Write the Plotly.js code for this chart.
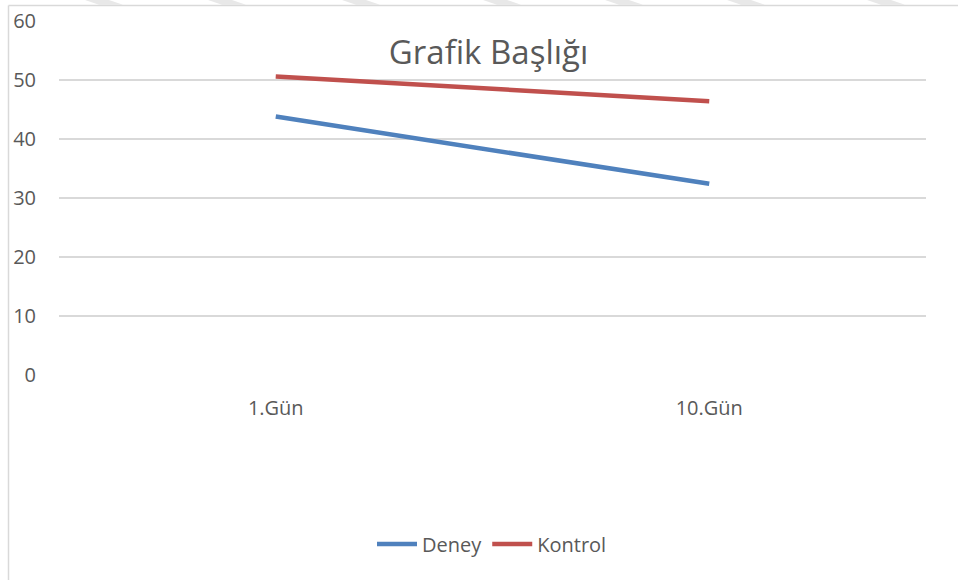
<!DOCTYPE html>
<html>
<head>
<meta charset="utf-8">
<script src="https://cdn.plot.ly/plotly-3.0.1.min.js"></script>
<style>html,body{margin:0;padding:0;background:#fff;}#chart{width:958px;height:580px;}</style>
</head>
<body>
<div id="chart"></div>
<script>
const categories = ["1.Gün", "10.Gün"];
const deney = [43.8, 32.4];
const kontrol = [50.6, 46.4];
const seriesNames = ["Deney", "Kontrol"];
const yTicks = [0, 10, 20, 30, 40, 50, 60];

const W = 958, H = 580;
const M = {l: 59, r: 32, t: 21, b: 205};
const pw = W - M.l - M.r, ph = H - M.t - M.b;
const px = x => (x - M.l) / pw;
const py = y => (H - M.b - y) / ph;

const FONT = "'Open Sans', Lato, sans-serif";
const TXT = "#595959";

const traces = [
  {x: categories, y: deney, name: seriesNames[0], type: "scatter", mode: "lines",
   line: {color: "#4F81BD", width: 4.5}},
  {x: categories, y: kontrol, name: seriesNames[1], type: "scatter", mode: "lines",
   line: {color: "#C0504D", width: 4.5}}
];

// decorative frame (chart border seen at left and top)
const shapes = [
  {type: "line", xref: "paper", yref: "paper", x0: px(8.5), x1: px(8.5), y0: py(5.5), y1: py(580), line: {color: "#D9D9D9", width: 1.5}},
  {type: "line", xref: "paper", yref: "paper", x0: px(8.5), x1: px(958), y0: py(5.5), y1: py(5.5), line: {color: "#D9D9D9", width: 1.5}}
];
// faint diagonal watermark stripes above the frame
[85, 208, 342, 483, 605, 727, 867].forEach(s => {
  shapes.push({type: "path", xref: "paper", yref: "paper", layer: "below",
    path: `M${px(s)},${py(0)} L${px(s + 24)},${py(0)} L${px(s + 38)},${py(4.8)} L${px(s + 14)},${py(4.8)} Z`,
    fillcolor: "#E8E8E8", line: {width: 0}});
});

const layout = {
  width: W, height: H,
  margin: M,
  paper_bgcolor: "#fff", plot_bgcolor: "#fff",
  font: {family: FONT, color: TXT, size: 20},
  title: {text: "Grafik Başlığı", font: {family: FONT, size: 33, color: TXT},
          x: 0.51, xref: "container", xanchor: "center", y: 1 - 52 / H, yref: "container", yanchor: "middle"},
  xaxis: {type: "category", range: [-0.5, 1.5], showgrid: false, showline: false, zeroline: false,
          ticks: "", ticklabelstandoff: 19, tickfont: {size: 20, color: TXT}, fixedrange: true},
  yaxis: {range: [0, 60], tickvals: yTicks, showgrid: true, gridcolor: "#D9D9D9", gridwidth: 1.5,
          zeroline: false, showline: false, ticks: "", ticklabelstandoff: 22,
          tickfont: {size: 20, color: TXT}, fixedrange: true},
  showlegend: true,
  legend: {orientation: "h", x: px(492), xanchor: "center", y: py(544), yanchor: "middle",
           font: {size: 20, color: TXT}, itemwidth: 40, traceorder: "normal"},
  shapes: shapes
};

Plotly.newPlot("chart", traces, layout, {displayModeBar: false, staticPlot: true});
</script>
</body>
</html>
